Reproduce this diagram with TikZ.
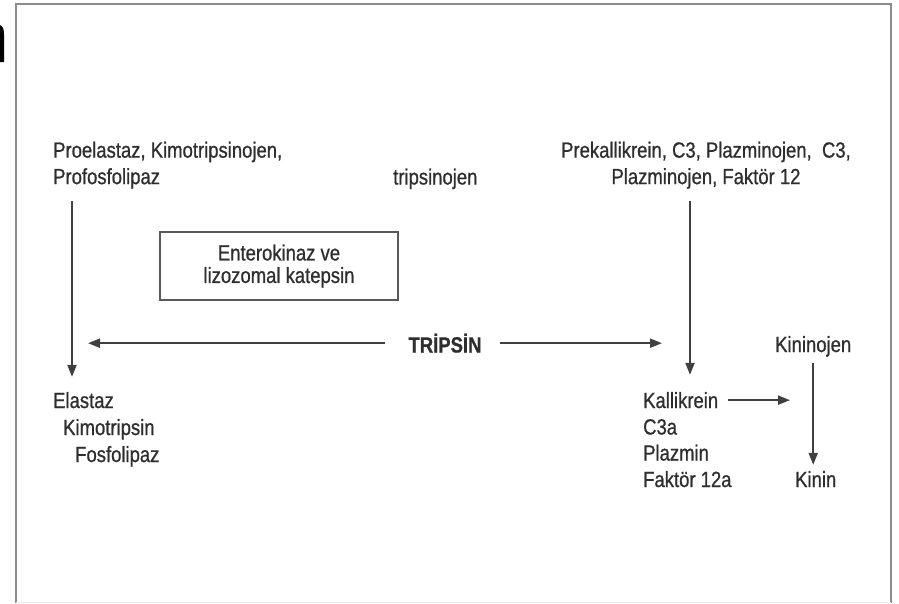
\documentclass[tikz,border=0pt]{standalone}
\usepackage{fontspec}
\setmainfont{Liberation Sans}[FakeStretch=0.84, FakeBold=0.8]
\usetikzlibrary{arrows.meta,positioning}
\tikzset{
  lbl/.style={inner sep=0pt, font=\fontsize{22}{26.5}\selectfont, text=black!82, align=left},
  kbox/.style={draw=black!65, line width=1.6pt, minimum width=238pt, minimum height=68pt, align=center,
              font=\fontsize{22}{22.5}\selectfont, text=black!82, inner sep=0pt},
  arr/.style={-{Triangle[length=12pt,width=9pt]}, line width=2pt, draw=black!75},
  frm/.style={draw=black!45, line width=2pt}
}

\begin{document}
\begin{tikzpicture}[x=1pt,y=-1pt]
\useasboundingbox (0,0) rectangle (899,603);
\draw[frm] (16,603) -- (16,4) -- (891,4) -- (891,603);
\draw[draw=black!8, line width=1pt] (16,602) -- (891,602);
% piece of a letter cut off at the page edge
\fill[black] (0,25) .. controls (2.5,26) and (4,29) .. (4,34) -- (4,62) -- (0,62) -- cycle;

\node[lbl, anchor=north west] (pro) at (53,141.5) {Proelastaz, Kimotripsinojen,\\Profosfolipaz};
\node[lbl, anchor=base west] (tgen) at (393,184.5) {tripsinojen};
\node[lbl, anchor=north, align=center] (pre) at (706,141.5) {Prekallikrein, C3, Plazminojen,\ \ C3,\\Plazminojen, Faktör 12};
\node[kbox] (enz) at (279,266) {Enterokinaz ve\\lizozomal katepsin};
\node[lbl, anchor=base, font=\fontsize{22}{22}\selectfont\bfseries] (trip) at (445,352.5) {TRİPSİN};

\node[lbl, anchor=base west] (ela) at (53,408) {Elastaz};
\node[lbl, anchor=base west] (kim) at (63,435) {Kimotripsin};
\node[lbl, anchor=base west] (fos) at (75,462) {Fosfolipaz};

\node[lbl, anchor=base west] (kal) at (643,408) {Kallikrein};
\node[lbl, anchor=base west] (c3a) at (643,434.5) {C3a};
\node[lbl, anchor=base west] (plz) at (643,460.5) {Plazmin};
\node[lbl, anchor=base west] (f12a) at (643,487) {Faktör 12a};

\node[lbl, anchor=base west] (kno) at (775,352) {Kininojen};
\node[lbl, anchor=base west] (kin) at (795,487) {Kinin};

\coordinate (lv) at (72,0);
\coordinate (kv) at (690,0);
\coordinate (lt) at (88,0);
\coordinate (rt) at (662,0);
\coordinate (kk) at (790,0);

\draw[arr, shorten <=12pt, shorten >=15pt] (pro.south -| lv) -- (ela.north -| lv);
\draw[arr, shorten <=12pt, shorten >=17pt] (pre.south -| kv) -- (kal.north -| kv);
\draw[arr, shorten <=23pt] (trip.west) -- (trip.west -| lt);
\draw[arr, shorten <=18pt] (trip.east) -- (trip.east -| rt);
\draw[arr, shorten <=10pt] (kal.east) -- (kal.east -| kk);
\draw[arr, shorten <=6pt, shorten >=6pt] (kno.south) -- (kno.south |- kin.north);
\end{tikzpicture}
\end{document}
